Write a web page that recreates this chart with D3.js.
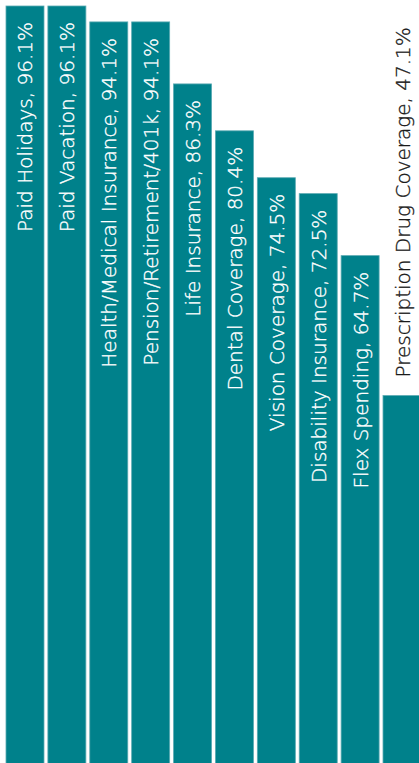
<!DOCTYPE html>
<html>
<head>
<meta charset="utf-8">
<script src="https://cdn.jsdelivr.net/npm/d3@7"></script>
<style>
  html, body { margin: 0; padding: 0; background: #fff; overflow: hidden; }
  svg { display: block; }
</style>
</head>
<body>
<svg id="chart" width="419" height="763"></svg>
<script>
const categories = [
  "Paid Holidays", "Paid Vacation", "Health/Medical Insurance",
  "Pension/Retirement/401k", "Life Insurance", "Dental Coverage",
  "Vision Coverage", "Disability Insurance", "Flex Spending",
  "Prescription Drug Coverage"
];
const values = [96.1, 96.1, 94.1, 94.1, 86.3, 80.4, 74.5, 72.5, 64.7, 47.1];
const insideLabel = [true, true, true, true, true, true, true, true, true, false];

const W = 419, H = 763;
const svg = d3.select("#chart");

const x = d3.scaleBand()
  .domain(categories)
  .range([6, 421])
  .paddingInner(0.093)
  .paddingOuter(0);

const y = d3.scaleLinear()
  .domain([0, 100])
  .range([770, -25]);

const data = categories.map((c, i) => ({ c, v: values[i], inside: insideLabel[i] }));

svg.append("g")
  .selectAll("rect")
  .data(data)
  .join("rect")
  .attr("x", d => x(d.c))
  .attr("y", d => y(d.v))
  .attr("width", x.bandwidth())
  .attr("height", d => y(0) - y(d.v))
  .attr("fill", "#00818b")
  .attr("stroke", "#5aaab2")
  .attr("stroke-width", 0.8);

svg.append("g")
  .selectAll("text")
  .data(data)
  .join("text")
  .attr("transform", d => {
    const cx = x(d.c) + x.bandwidth() / 2 + 7.5;
    const ty = d.inside ? y(d.v) + 16 : y(d.v) - 18;
    return `translate(${cx},${ty}) rotate(-90)`;
  })
  .attr("text-anchor", d => d.inside ? "end" : "start")
  .attr("font-family", "'DejaVu Sans', sans-serif")
  .attr("font-weight", 200)
  .attr("font-size", 20)
  .attr("fill", d => d.inside ? "#ffffff" : "#1a1a1a")
  .attr("stroke", d => d.inside ? "#ffffff" : "#1a1a1a")
  .attr("stroke-width", 0.35)
  .text(d => `${d.c}, ${d.v.toFixed(1)}%`);
</script>
</body>
</html>
